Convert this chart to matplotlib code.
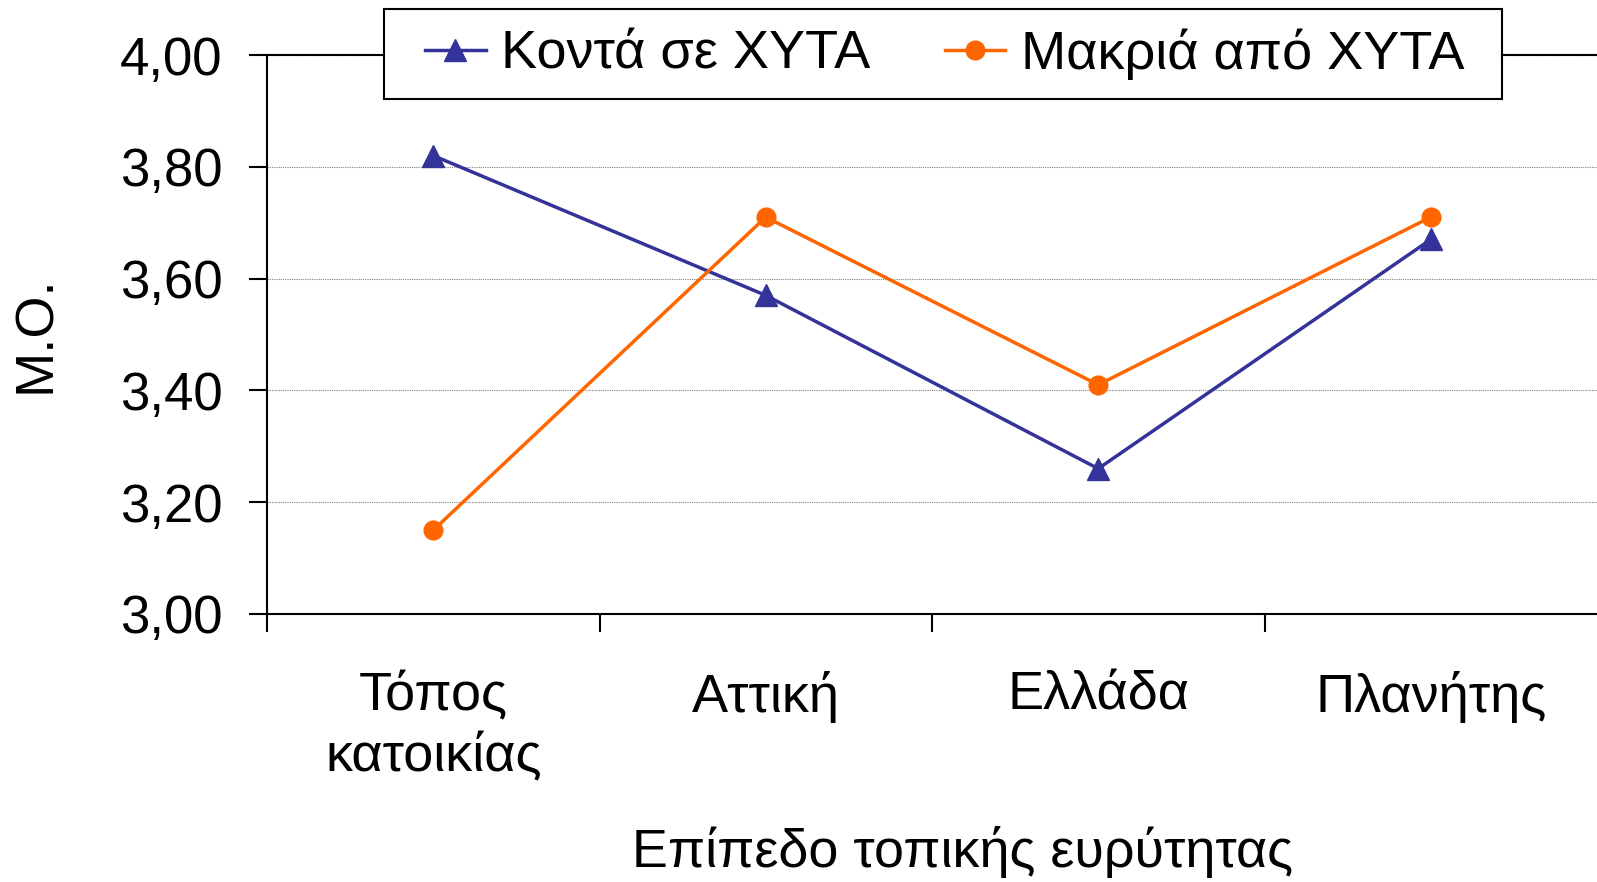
import numpy as np
import matplotlib
matplotlib.use('Agg')
import matplotlib.pyplot as plt
from matplotlib.patches import Rectangle

# Δεδομένα
categories = ['Τόπος\nκατοικίας', 'Αττική', 'Ελλάδα', 'Πλανήτης']
near = [3.82, 3.57, 3.26, 3.67]
far = [3.15, 3.71, 3.41, 3.71]
series_names = ['Κοντά σε ΧΥΤΑ', 'Μακριά από ΧΥΤΑ']
yticks = [3.0, 3.2, 3.4, 3.6, 3.8, 4.0]

plt.rcParams['font.family'] = ['Liberation Sans', 'DejaVu Sans']

W, H = 1597, 882
fig = plt.figure(figsize=(W/100, H/100), dpi=100)
ax = fig.add_axes([267/W, 1 - 614/H, 1 - 267/W, (614 - 55)/H])

x = np.arange(len(categories))
l1, = ax.plot(x, near, color='#333399', lw=2.5, marker='^', ms=15.5, label=series_names[0], zorder=3)
l2, = ax.plot(x, far, color='#FF6600', lw=2.5, marker='o', ms=13.5, label=series_names[1], zorder=3)

ax.set_xlim(-0.5, 3.5)
ax.set_ylim(3.0, 4.0)

ax.set_yticks(yticks)
ax.set_yticklabels([f'{v:.2f}'.replace('.', ',') for v in yticks], fontsize=38)
ax.tick_params(axis='y', direction='out', length=13, width=1.5, pad=19)

ax.set_xticks(x)
ax.set_xticklabels(categories, fontsize=39, linespacing=1.29)
ax.set_xticks(np.arange(-0.5, 3.0, 1.0), minor=True)
ax.tick_params(axis='x', which='major', length=0, pad=41)
ax.tick_params(axis='x', which='minor', direction='out', length=13, width=1.5)

ax.grid(axis='y', color='#808080', lw=0.8, linestyle=(0, (1, 1)))
ax.spines['right'].set_visible(False)
for s in ['left', 'bottom', 'top']:
    ax.spines[s].set_linewidth(1.5)
    ax.spines[s].set_color('black')

ax.set_ylabel('Μ.Ο.', fontsize=39)
ax.yaxis.set_label_coords(-0.174, 0.5)
ax.yaxis.label.set_va('center')
ax.set_xlabel('Επίπεδο τοπικής ευρύτητας', fontsize=38.8)
ax.xaxis.set_label_coords(0.5226, -0.426)
ax.xaxis.label.set_va('center')

# πλαίσιο υπομνήματος
box = Rectangle((384/W, 1 - 99/H), (1502 - 384)/W, 90/H, transform=fig.transFigure,
                facecolor='white', edgecolor='black', lw=1.5, zorder=1)
fig.add_artist(box)

leg = fig.legend([l1, l2], series_names, loc='center left',
                 bbox_to_anchor=(425/W, 1 - 54/H), ncol=2, fontsize=39,
                 frameon=False, handlelength=1.12, handletextpad=0.28,
                 columnspacing=1.38, borderpad=0, borderaxespad=0)
leg.set_zorder(2)

fig.savefig('out.png', dpi=100)
